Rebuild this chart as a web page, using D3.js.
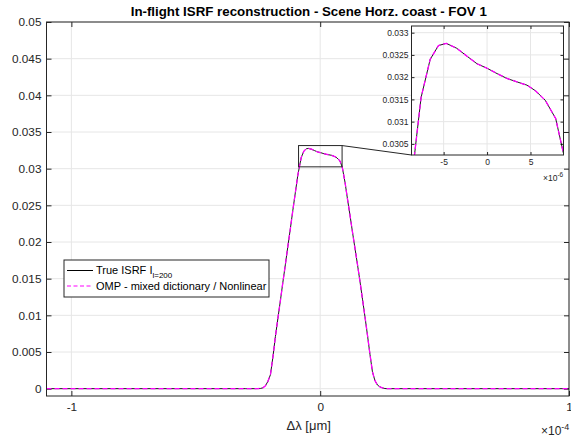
<!DOCTYPE html>
<html>
<head>
<meta charset="utf-8">
<script src="https://cdn.jsdelivr.net/npm/d3@7"></script>
<style>
  body { margin: 0; background: #fff; }
  svg { font-family: "Liberation Sans", Arial, Helvetica, sans-serif; }
</style>
</head>
<body>
<div id="chart"></div>
<script>
//Data - delta lambda in units of 1e-6 um, ISRF values
var dl = [-110, -30, -26, -25, -24, -23, -22, -21, -20, -19, -18, -17, -16, -15, -14, -13, -12, -11, -10, -9, -8.36,
  -7.6, -6.55, -5.6, -4.7, -3.5, -2.3, -1.15, 0, 1.15, 2.3, 3.5, 4.6, 5.6, 6.7, 7.9, 8.85,
  10, 11, 12, 13, 14, 15, 16, 17, 18, 19, 20, 21, 22, 23, 24, 25, 26, 27, 30, 100];
var trueIsrf = [0, 0, 0, 0.00001, 0.00003, 0.00012, 0.0004, 0.001, 0.0019, 0.0043, 0.0071, 0.0096, 0.012, 0.0145, 0.0169, 0.0194, 0.0218, 0.0243, 0.0267, 0.0291, 0.03024,
  0.03154, 0.0324, 0.03271, 0.03276, 0.03265, 0.03247, 0.0323, 0.0322, 0.03208, 0.03197, 0.03189, 0.03182, 0.03169, 0.03148, 0.03107, 0.03024,
  0.0281, 0.0258, 0.0236, 0.0213, 0.0191, 0.0169, 0.0146, 0.0122, 0.0098, 0.0073, 0.0047, 0.0023, 0.0011, 0.0005, 0.00025, 0.0001, 0.00002, 0, 0, 0];
var ompIsrf = [0, 0, 0, 0.00001, 0.00003, 0.00012, 0.0004, 0.001, 0.0019, 0.0043, 0.0071, 0.0096, 0.012, 0.0145, 0.0169, 0.0194, 0.0218, 0.0243, 0.0267, 0.0291, 0.03024,
  0.03154, 0.0324, 0.03271, 0.03276, 0.03265, 0.03247, 0.0323, 0.0322, 0.03208, 0.03197, 0.03189, 0.03182, 0.03169, 0.03148, 0.03107, 0.03024,
  0.0281, 0.0258, 0.0236, 0.0213, 0.0191, 0.0169, 0.0146, 0.0122, 0.0098, 0.0073, 0.0047, 0.0023, 0.0011, 0.0005, 0.00025, 0.0001, 0.00002, 0, 0, 0];

//tick values
var xTicks = [-100, 0, 100];
var yTicks = [0, 0.005, 0.01, 0.015, 0.02, 0.025, 0.03, 0.035, 0.04, 0.045, 0.05];
var inXTicks = [-5, 0, 5];
var inYTicks = [0.0305, 0.031, 0.0315, 0.032, 0.0325, 0.033];

var seriesNames = ["True ISRF I", "OMP - mixed dictionary / Nonlinear"];

var axisCol = "#262626", gridCol = "#e6e6e6";

var W = 571, H = 438;
var svg = d3.select("#chart").append("svg")
  .attr("width", W).attr("height", H);

var trueData = dl.map(function(d, i) { return {x: d, y: trueIsrf[i]}; });
var ompData = dl.map(function(d, i) { return {x: d, y: ompIsrf[i]}; });

//draws one set of axes (main or inset) - returns the scales
function drawAxes(box, xDom, yDom, xt, yt, xFmt, yFmt, fs, tickLen, padX, padY) {
  var x = d3.scaleLinear().domain(xDom).range([box.l, box.r]);
  var y = d3.scaleLinear().domain(yDom).range([box.b, box.t]);
  var g = svg.append("g");

  g.append("rect")
    .attr("x", box.l).attr("y", box.t)
    .attr("width", box.r - box.l).attr("height", box.b - box.t)
    .attr("fill", "#fff");

  //grid
  g.selectAll(".vg").data(xt).enter().append("line")
    .attr("x1", d => x(d)).attr("x2", d => x(d))
    .attr("y1", box.t).attr("y2", box.b)
    .attr("stroke", gridCol).attr("stroke-width", 1);
  g.selectAll(".hg").data(yt).enter().append("line")
    .attr("x1", box.l).attr("x2", box.r)
    .attr("y1", d => y(d)).attr("y2", d => y(d))
    .attr("stroke", gridCol).attr("stroke-width", 1);

  //axes with inward ticks, mirrored on top/right
  var ax = [
    d3.axisBottom(x).tickValues(xt).tickSize(-tickLen).tickPadding(padX).tickFormat(xFmt),
    d3.axisTop(x).tickValues(xt).tickSize(-tickLen).tickFormat(""),
    d3.axisLeft(y).tickValues(yt).tickSize(-tickLen).tickPadding(padY).tickFormat(yFmt),
    d3.axisRight(y).tickValues(yt).tickSize(-tickLen).tickFormat("")
  ];
  var tr = ["translate(0," + box.b + ")", "translate(0," + box.t + ")",
            "translate(" + box.l + ",0)", "translate(" + box.r + ",0)"];
  ax.forEach(function(a, i) {
    var ag = svg.append("g").attr("transform", tr[i]).call(a);
    ag.select(".domain").remove();
    ag.selectAll("line").attr("stroke", axisCol);
    ag.selectAll("text").attr("fill", axisCol).style("font-size", fs + "px")
      .style("font-family", null);
  });
  return {x: x, y: y, g: g};
}

function drawBox(box) {
  svg.append("rect")
    .attr("x", box.l).attr("y", box.t)
    .attr("width", box.r - box.l).attr("height", box.b - box.t)
    .attr("fill", "none").attr("stroke", axisCol).attr("stroke-width", 1);
}

function drawLines(sc, box, id) {
  svg.append("clipPath").attr("id", id).append("rect")
    .attr("x", box.l).attr("y", box.t)
    .attr("width", box.r - box.l).attr("height", box.b - box.t);
  var line = d3.line().x(d => sc.x(d.x)).y(d => sc.y(d.y));
  var lg = svg.append("g").attr("clip-path", "url(#" + id + ")");
  lg.append("path").datum(trueData).attr("d", line)
    .attr("fill", "none").attr("stroke", "#000").attr("stroke-width", 0.9);
  lg.append("path").datum(ompData).attr("d", line)
    .attr("fill", "none").attr("stroke", "#ff00ff").attr("stroke-width", 1.3)
    .attr("stroke-dasharray", "5,3");
}

//main axes
var mainBox = {l: 46.5, r: 569, t: 22, b: 396};
var yFmt = d => String(+d.toFixed(4));
var main = drawAxes(mainBox, [-110, 100], [-0.001, 0.05], xTicks, yTicks,
  d => String(d / 100), yFmt, 11.8, 5, 7, 5);
drawLines(main, mainBox, "clipMain");
drawBox(mainBox);

//title
svg.append("text")
  .attr("x", (mainBox.l + mainBox.r) / 2 + 1).attr("y", 16)
  .attr("text-anchor", "middle")
  .style("font-size", "13.3px").style("font-weight", "bold")
  .attr("fill", "#000")
  .text("In-flight ISRF reconstruction - Scene Horz. coast - FOV 1");

//x label
svg.append("text")
  .attr("x", (mainBox.l + mainBox.r) / 2 + 1).attr("y", 430)
  .attr("text-anchor", "middle")
  .style("font-size", "13px").attr("fill", axisCol)
  .text("\u0394\u03bb [\u03bcm]");

//exponent label for x
var ex = svg.append("text").attr("x", 541).attr("y", 435)
  .style("font-size", "12px").attr("fill", axisCol);
ex.append("tspan").text("\u00d710");
ex.append("tspan").attr("dy", -5).style("font-size", "9px").text("-4");

//zoom rectangle on main chart
var inXDom = [-8.7, 8.8], inYDom = [0.03025, 0.03315];
svg.append("rect")
  .attr("x", main.x(inXDom[0])).attr("y", main.y(inYDom[1]))
  .attr("width", main.x(inXDom[1]) - main.x(inXDom[0]))
  .attr("height", main.y(inYDom[0]) - main.y(inYDom[1]))
  .attr("fill", "none").attr("stroke", axisCol).attr("stroke-width", 1);

//inset axes
var inBox = {l: 411.5, r: 563.5, t: 26, b: 155};
svg.append("line")
  .attr("x1", main.x(inXDom[1])).attr("y1", main.y(inYDom[1]))
  .attr("x2", inBox.l).attr("y2", inBox.b)
  .attr("stroke", axisCol).attr("stroke-width", 1);
var inset = drawAxes(inBox, inXDom, inYDom, inXTicks, inYTicks,
  d => String(d), yFmt, 8.5, 3, 4, 3);
drawLines(inset, inBox, "clipInset");
drawBox(inBox);

var ex2 = svg.append("text").attr("x", 543).attr("y", 181)
  .style("font-size", "8.5px").attr("fill", axisCol);
ex2.append("tspan").text("\u00d710");
ex2.append("tspan").attr("dy", -4).style("font-size", "6.5px").text("-6");

//legend
var leg = svg.append("g");
leg.append("rect")
  .attr("x", 64).attr("y", 260).attr("width", 205).attr("height", 37)
  .attr("fill", "#fff").attr("stroke", axisCol).attr("stroke-width", 1);
var rowY = [270.5, 286];
leg.append("line").attr("x1", 67).attr("x2", 93).attr("y1", rowY[0]).attr("y2", rowY[0])
  .attr("stroke", "#000").attr("stroke-width", 1);
leg.append("line").attr("x1", 67).attr("x2", 93).attr("y1", rowY[1]).attr("y2", rowY[1])
  .attr("stroke", "#ff00ff").attr("stroke-width", 1.2).attr("stroke-dasharray", "4,2.5");
var t1 = leg.append("text").attr("x", 96).attr("y", rowY[0] + 3)
  .style("font-size", "11px").attr("fill", "#000");
t1.append("tspan").text(seriesNames[0]);
t1.append("tspan").attr("dy", 4).style("font-size", "8px").text("l=200");
leg.append("text").attr("x", 96).attr("y", rowY[1] + 4)
  .style("font-size", "11px").attr("fill", "#000")
  .text(seriesNames[1]);
</script>
</body>
</html>
